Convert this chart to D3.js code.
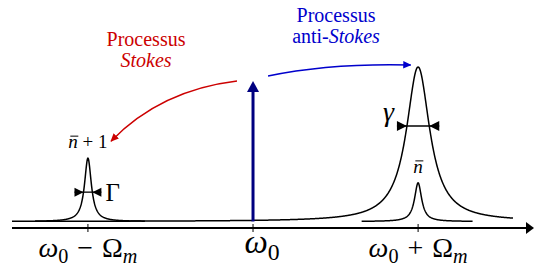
<!DOCTYPE html>
<html>
<head>
<meta charset="utf-8">
<script src="https://cdn.jsdelivr.net/npm/d3@7"></script>
</head>
<body style="margin:0">
<script>
// frequency axis, in units of Omega_m around omega_0
const tickValues = [-1, 0, 1];
// runs: text, italic, subscript
const tickLabels = [
  [['ω', 1, 0], ['0', 0, 1], ['−', 0, 0], ['Ω', 0, 0], ['m', 1, 1]],
  [['ω', 1, 0], ['0', 0, 1]],
  [['ω', 1, 0], ['0', 0, 1], ['+', 0, 0], ['Ω', 0, 0], ['m', 1, 1]],
];

// lorentzian lines: centre, height, half width, drawn span
const peakNames = ['stokes', 'cavity', 'antiStokes'];
const peakCenters = [-1, 1, 1];
const peakHeights = [0.41, 1, 0.25];
const peakWidths = [0.025, 0.086, 0.026];
const peakSpans = [[-1.32, -0.655], [-1.46, 1.575], [0.658, 1.33]];

// linewidth markers (Gamma on the Stokes line, gamma on the cavity line)
const markerPeaks = [0, 1];
const markerLevels = [0.19, 0.618];
const markerSymbols = ['Γ', 'γ'];

// occupation labels above the narrow lines
const peakLabelPeaks = [0, 2];
const peakLabelTexts = [['+', '1'], []];

// scattering arrows: start, control, end in (frequency, intensity)
const arrowNames = ['stokes', 'antiStokes'];
const arrowPoints = [
  [[-0.097, 0.909], [-0.56, 0.85], [-0.86, 0.52]],
  [[0.091, 0.942], [0.47, 1.026], [0.955, 1.013]],
];
const arrowTitles = [
  [[['Processus', 0]], [['Stokes', 1]]],
  [[['Processus', 0]], [['anti-', 0], ['Stokes', 1]]],
];
const arrowColors = ['#cc0000', '#0000cc'];

// pump line at omega_0
const pumpHeight = 0.909;

const width = 534;
const height = 268;
const serif = 'Times New Roman';

const x = d3.scaleLinear().domain([-1.46, 1.69]).range([12, 532]);
const y = d3.scaleLinear().domain([0, 1]).range([221.5, 67]);
const axisY = 228;

const svg = d3.select('body').append('svg')
  .attr('width', width)
  .attr('height', height)
  .style('display', 'block');

// lay out runs as separate text nodes, centred on cx unless anchored
function richText(parent, cx, by, runs, opts) {
  const g = parent.append('g');
  let cursor = 0;
  const nodes = runs.map((r, i) => {
    if (i > 0) cursor += r.gap || 0;
    const t = g.append('text')
      .attr('x', cursor)
      .attr('y', r.dy || 0)
      .attr('font-family', serif)
      .attr('font-size', r.size)
      .attr('font-style', r.italic ? 'italic' : 'normal')
      .attr('fill', opts.color || '#000')
      .text(r.text);
    cursor += t.node().getComputedTextLength();
    return t;
  });
  const left = opts.anchor === 'start' ? cx : opts.anchor === 'end' ? cx - cursor : cx - cursor / 2;
  g.attr('transform', `translate(${left},${by})`);
  return { g, nodes, left };
}

const defs = svg.append('defs');
arrowNames.forEach((name, i) => {
  defs.append('marker')
    .attr('id', `head-${name}`)
    .attr('viewBox', '0 -5 10 10')
    .attr('refX', 9)
    .attr('refY', 0)
    .attr('markerWidth', 5.5)
    .attr('markerHeight', 5.5)
    .attr('orient', 'auto')
    .append('path')
    .attr('d', 'M0,-4.5L10,0L0,4.5Z')
    .attr('fill', arrowColors[i]);
});

// frequency axis
svg.append('line')
  .attr('x1', x.range()[0]).attr('x2', 527)
  .attr('y1', axisY).attr('y2', axisY)
  .attr('stroke', '#000').attr('stroke-width', 2);
svg.append('path')
  .attr('d', `M526,${axisY - 6}L534,${axisY}L526,${axisY + 6}Z`)
  .attr('fill', '#000');

svg.append('g').selectAll('line')
  .data(tickValues)
  .join('line')
  .attr('x1', (d) => x(d)).attr('x2', (d) => x(d))
  .attr('y1', axisY - 4).attr('y2', axisY + 4)
  .attr('stroke', '#000').attr('stroke-width', 1);

const labelSize = [28, 33, 28];
const labelShift = [0, 9, 0];
const labelBase = [257, 253, 257];
const isOp = (s) => s === '−' || s === '+';
tickValues.forEach((d, i) => {
  const base = labelSize[i];
  const runs = tickLabels[i].map(([s, it, sub], j) => ({
    text: s,
    italic: it,
    size: sub ? base * 0.72 : base,
    dy: sub ? base * 0.2 : 0,
    gap: isOp(s) || (j > 0 && isOp(tickLabels[i][j - 1][0])) ? base * 0.32 : 0,
  }));
  richText(svg, x(d) + labelShift[i], labelBase[i], runs, {});
});

// spectrum
const line = d3.line().x((d) => x(d[0])).y((d) => y(d[1]));
const lorentz = (i, f) =>
  peakHeights[i] * peakWidths[i] ** 2 /
  ((f - peakCenters[i]) ** 2 + peakWidths[i] ** 2);

svg.append('g').selectAll('path')
  .data(peakNames)
  .join('path')
  .attr('d', (name, i) => {
    const [a, b] = peakSpans[i];
    const pts = d3.range(a, b, 0.002).concat([b]).map((f) => [f, lorentz(i, f)]);
    return line(pts);
  })
  .attr('fill', 'none')
  .attr('stroke', '#000')
  .attr('stroke-width', 1.5);

// linewidth markers
markerPeaks.forEach((p, i) => {
  const g = svg.append('g');
  const level = markerLevels[i];
  const hw = peakWidths[p] * Math.sqrt(peakHeights[p] / level - 1);
  const xl = x(peakCenters[p] - hw);
  const xr = x(peakCenters[p] + hw);
  const yy = y(level);
  const s = i === 0 ? 9 : 10;
  g.append('line')
    .attr('x1', xl - s).attr('x2', xr + s)
    .attr('y1', yy).attr('y2', yy)
    .attr('stroke', '#000').attr('stroke-width', 1.3);
  g.append('path')
    .attr('d', `M${xl - s},${yy - s / 2}L${xl},${yy}L${xl - s},${yy + s / 2}Z` +
      `M${xr + s},${yy - s / 2}L${xr},${yy}L${xr + s},${yy + s / 2}Z`)
    .attr('fill', '#000');
  if (i === 0) {
    richText(svg, xr + s + 4, yy + 9, [{ text: markerSymbols[i], size: 25 }], { anchor: 'start' });
  } else {
    richText(svg, xl - s - 3, yy - 5, [{ text: markerSymbols[i], size: 28, italic: 1 }], { anchor: 'end' });
  }
});

// occupation labels (n with a bar)
peakLabelPeaks.forEach((p, i) => {
  const size = 19;
  const runs = [{ text: 'n', size, italic: 1 }]
    .concat(peakLabelTexts[i].map((s) => ({ text: s, size, gap: size * 0.25 })));
  const by = y(peakHeights[p]) - 10;
  const { g, nodes } = richText(svg, x(peakCenters[p]), by, runs, {});
  const box = nodes[0].node().getBBox();
  g.append('line')
    .attr('x1', box.x + 2).attr('x2', box.x + box.width + 0.5)
    .attr('y1', -12).attr('y2', -12)
    .attr('stroke', '#000').attr('stroke-width', 1);
});

// pump
const pumpX = x(0);
svg.append('line')
  .attr('x1', pumpX).attr('x2', pumpX)
  .attr('y1', y(0)).attr('y2', y(pumpHeight) + 10)
  .attr('stroke', '#000080').attr('stroke-width', 3);
svg.append('path')
  .attr('d', `M${pumpX - 6},${y(pumpHeight) + 11}L${pumpX},${y(pumpHeight)}L${pumpX + 6},${y(pumpHeight) + 11}Z`)
  .attr('fill', '#000080');

// scattering arrows
svg.append('g').selectAll('path')
  .data(arrowNames)
  .join('path')
  .attr('d', (name, i) => {
    const [p0, p1, p2] = arrowPoints[i].map(([f, v]) => [x(f), y(v)]);
    return `M${p0}Q${p1} ${p2}`;
  })
  .attr('fill', 'none')
  .attr('stroke', (name, i) => arrowColors[i])
  .attr('stroke-width', 1.5)
  .attr('marker-end', (name) => `url(#head-${name})`);

const titleX = [146, 336];
const titleY = [46, 22];
arrowNames.forEach((name, i) => {
  arrowTitles[i].forEach((lineRuns, k) => {
    const runs = lineRuns.map(([s, it]) => ({ text: s, italic: it, size: 20 }));
    richText(svg, titleX[i], titleY[i] + k * 20.5, runs, { color: arrowColors[i] });
  });
});
</script>
</body>
</html>
